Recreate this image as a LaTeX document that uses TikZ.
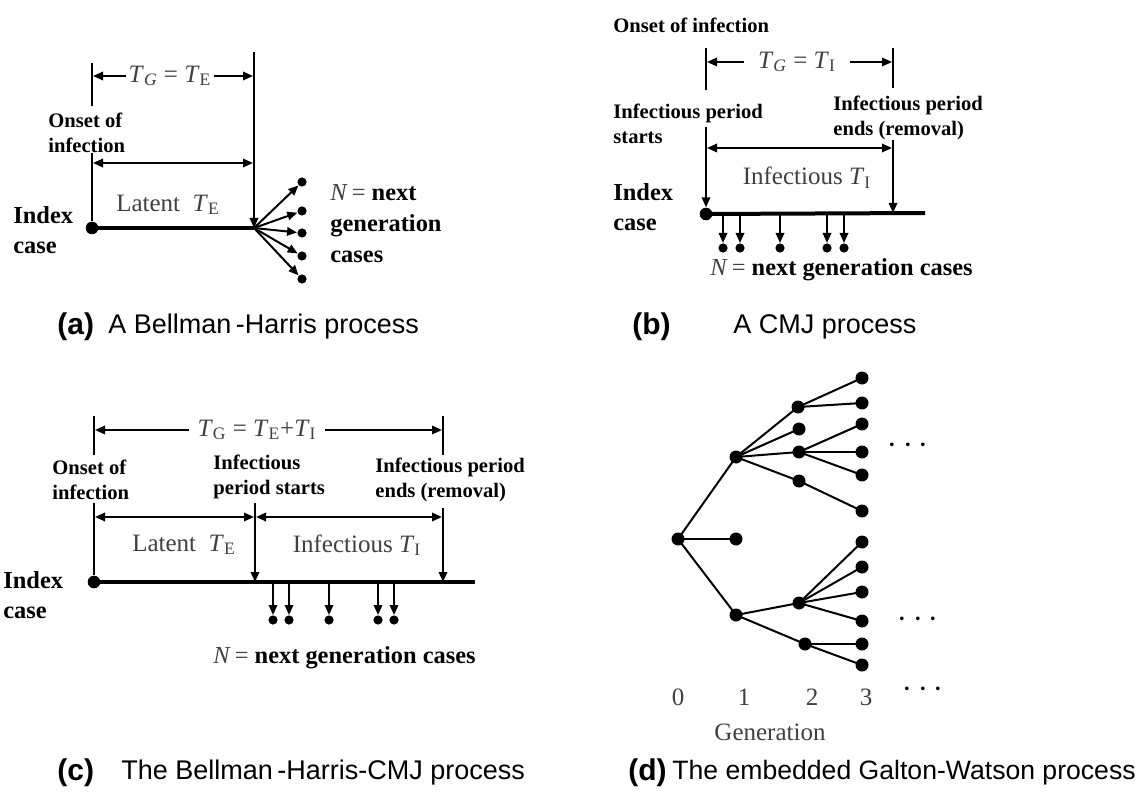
\documentclass[tikz,border=0pt]{standalone}
\usepackage{fontspec}
\setmainfont{Liberation Serif}
\setsansfont{Liberation Sans}
\usetikzlibrary{arrows.meta}
\newcommand{\TT}[1]{\textit{T}\textsubscript{#1}}
\begin{document}
\begin{tikzpicture}[x=0.5pt,y=-0.5pt,
  thinl/.style={line width=1pt},
  baseln/.style={line width=2pt},
  arr/.style={line width=1pt,-{Triangle[length=5pt,width=4.2pt]}},
  darr/.style={line width=1pt,{Triangle[length=5pt,width=4.2pt]}-{Triangle[length=5pt,width=4.2pt]}},
  bigdot/.style={circle,fill=black,inner sep=0pt,minimum size=6.3pt},
  smdot/.style={circle,fill=black,inner sep=0pt,minimum size=4.6pt},
  gdot/.style={circle,fill=black,inner sep=0pt,minimum size=6.5pt},
  edge/.style={line width=1pt},
  reg/.style={font=\fontsize{12.5}{15}\selectfont,text=black!75,inner sep=1pt},
  smb/.style={font=\fontsize{10.3}{12.8}\selectfont\bfseries,align=left,inner sep=0pt},
  bigb/.style={font=\fontsize{12.2}{15.2}\selectfont\bfseries,align=left,inner sep=0pt},
  capl/.style={font=\sffamily\bfseries\fontsize{15}{17}\selectfont,inner sep=0pt},
  capt/.style={font=\sffamily\fontsize{13.5}{16}\selectfont,inner sep=0pt},
  dots/.style={font=\fontsize{16}{18}\selectfont,inner sep=0pt}
]
\useasboundingbox (0,0) rectangle (1144,796);
\fill[white] (0,0) rectangle (1144,796);

% ================= (a) =================
\coordinate (aTickT) at (92,63);
\coordinate (aTickB) at (92,106);
\draw[thinl] (aTickT) -- (aTickB);
\coordinate (aVtop) at (254,52);
\node[bigdot] (aIdx) at (92,228) {};
\coordinate (aEnd) at (254,228);
\draw[baseln] (aIdx.center) -- (aEnd);
\draw[arr] (aVtop) -- (aEnd);
\node[reg] (aTG) at (170,76) {\TT{\textit{G}} = \TT{E}};
\coordinate (aTGL) at (93,76);
\coordinate (aTGR) at (253,76);
\draw[arr] (aTG.west) -- (aTGL);
\draw[arr] (aTG.east) -- (aTGR);
\node[smb,anchor=west] (aOnset) at (48,133) {Onset of\\infection};
\coordinate (aOnV) at (92,153);
\draw[thinl] (aOnV) -- (aIdx);
\coordinate (aL1) at (93,163);
\coordinate (aR1) at (253,163);
\draw[darr] (aL1) -- (aR1);
\node[reg] (aLat) at (168,205) {Latent\ \ \TT{E}};
\node[bigb,anchor=west] (aIndex) at (13,230) {Index\\case};
\foreach \i/\yy in {1/182,2/211,3/233,4/256,5/279}{
  \node[smdot] (aD\i) at (302,\yy) {};
  \draw[arr] (aEnd) -- (aD\i);
}
\node[bigb,anchor=west,font=\fontsize{12.2}{15.5}\selectfont\bfseries] (aN) at (330,224) {{\mdseries\color{black!75}\textit{N}\,=} next\\generation\\cases};

% ================= (b) =================
\node[smb,anchor=west] (bOnset) at (613,25) {Onset of infection};
\coordinate (bTL1) at (706,48);
\coordinate (bTL2) at (706,90);
\coordinate (bTR1) at (893,48);
\coordinate (bTR2) at (893,88);
\draw[thinl] (bTL1) -- (bTL2);
\draw[thinl] (bTR1) -- (bTR2);
\node[reg] (bTG) at (797,62) {\TT{\textit{G}} = \TT{I}};
\coordinate (bTGL) at (707,62);
\coordinate (bTGR) at (892,62);
\draw[arr] ([xshift=-6pt]bTG.west) -- (bTGL);
\draw[arr] ([xshift=6pt]bTG.east) -- (bTGR);
\node[smb,anchor=west] (bStart) at (613,124) {Infectious period\\starts};
\node[smb,anchor=west] (bEnds) at (833,118) {Infectious period\\ends (removal)};
\node[bigdot] (bIdx) at (706,214) {};
\coordinate (bVL) at (706,127);
\draw[arr] (bVL) -- (bIdx);
\coordinate (bVR) at (893,140);
\coordinate (bVRb) at (893,213);
\draw[arr] (bVR) -- (bVRb);
\coordinate (bL1) at (707,148);
\coordinate (bR1) at (892,148);
\draw[darr] (bL1) -- (bR1);
\node[reg] (bInf) at (807,178) {Infectious \TT{I}};
\node[bigb,anchor=west] (bIndex) at (613,207) {Index\\case};
\coordinate (bEnd) at (925,213);
\draw[baseln] (bIdx.center) -- (bEnd);
\foreach \i/\xx in {1/723,2/740,3/780,4/827,5/844}{
  \coordinate (bS\i) at (\xx,214);
  \node[smdot] (bD\i) at (\xx,248) {};
  \draw[arr] (bS\i) -- (bD\i);
}
\node[bigb,anchor=west] (bN) at (710,270) {{\mdseries\color{black!75}\textit{N}\,=} next generation cases};

% ================= (c) =================
\coordinate (cTL1) at (94,416);
\coordinate (cTL2) at (94,455);
\coordinate (cTR1) at (443,416);
\coordinate (cTR2) at (443,455);
\draw[thinl] (cTL1) -- (cTL2);
\draw[thinl] (cTR1) -- (cTR2);
\node[reg] (cTG) at (257,430) {\TT{G} = \TT{E}+\TT{I}};
\coordinate (cTGL) at (95,430);
\coordinate (cTGR) at (442,430);
\draw[arr] ([xshift=-3pt]cTG.west) -- (cTGL);
\draw[arr] ([xshift=3pt]cTG.east) -- (cTGR);
\node[smb,anchor=west] (cOnset) at (52,480) {Onset of\\infection};
\node[smb,anchor=west] (cStart) at (213,477) {Infectious\\period starts};
\node[smb,anchor=west] (cEnds) at (375,480) {Infectious period\\ends (removal)};
\node[bigdot] (cIdx) at (94,582) {};
\coordinate (cOnV) at (94,503);
\draw[thinl] (cOnV) -- (cIdx);
\coordinate (cVM) at (255,503);
\coordinate (cVMb) at (255,582);
\draw[arr] (cVM) -- (cVMb);
\coordinate (cVR) at (443,508);
\coordinate (cVRb) at (443,582);
\draw[arr] (cVR) -- (cVRb);
\coordinate (cL1) at (95,517);
\coordinate (cM1) at (254,517);
\coordinate (cM2) at (256,517);
\coordinate (cR1) at (442,517);
\draw[darr] (cL1) -- (cM1);
\draw[darr] (cM2) -- (cR1);
\node[reg] (cLat) at (184,545) {Latent\ \ \TT{E}};
\node[reg] (cInf) at (357,545) {Infectious \TT{I}};
\coordinate (cEnd) at (475,582);
\draw[baseln] (cIdx.center) -- (cEnd);
\node[bigb,anchor=west] (cIndex) at (3,595) {Index\\case};
\foreach \i/\xx in {1/273,2/289,3/329,4/378,5/394}{
  \coordinate (cS\i) at (\xx,583);
  \node[smdot] (cD\i) at (\xx,620) {};
  \draw[arr] (cS\i) -- (cD\i);
}
\node[bigb,anchor=west] (cN) at (213,658) {{\mdseries\color{black!75}\textit{N}\,=} next generation cases};

% ================= (d) =================
\node[gdot] (r) at (678,539) {};
\node[gdot] (g1a) at (736,457) {};
\node[gdot] (g1b) at (736,539) {};
\node[gdot] (g1c) at (736,615) {};
\node[gdot] (g2a) at (798,407) {};
\node[gdot] (g2b) at (799,429) {};
\node[gdot] (g2c) at (799,452) {};
\node[gdot] (g2d) at (799,481) {};
\node[gdot] (g2e) at (799,603) {};
\node[gdot] (g2f) at (805,644) {};
\foreach \i/\yy in {1/378,2/403,3/424,4/452,5/475,6/511,7/542,8/567,9/592,10/621,11/644,12/665}{
  \node[gdot] (g3n\i) at (862,\yy) {};
}
\draw[edge] (r.center) -- (g1a.center);
\draw[edge] (r.center) -- (g1b.center);
\draw[edge] (r.center) -- (g1c.center);
\foreach \t in {g2a,g2b,g2c,g2d}{\draw[edge] (g1a.center) -- (\t.center);}
\foreach \t in {g3n1,g3n2}{\draw[edge] (g2a.center) -- (\t.center);}
\foreach \t in {g3n3,g3n4,g3n5}{\draw[edge] (g2c.center) -- (\t.center);}
\draw[edge] (g2d.center) -- (g3n6.center);
\foreach \t in {g2e,g2f}{\draw[edge] (g1c.center) -- (\t.center);}
\foreach \t in {g3n7,g3n8,g3n9,g3n10}{\draw[edge] (g2e.center) -- (\t.center);}
\foreach \t in {g3n11,g3n12}{\draw[edge] (g2f.center) -- (\t.center);}
\node[dots] (dd1) at (908,446) {$\cdots$};
\node[dots] (dd2) at (918,620) {$\cdots$};
\node[dots] (dd3) at (923,690) {$\cdots$};
\node[reg] (n0) at (678,697) {0};
\node[reg] (n1) at (744,697) {1};
\node[reg] (n2) at (812,697) {2};
\node[reg] (n3) at (866,697) {3};
\node[reg] (gen) at (770,732) {Generation};

% ================= captions =================
\node[capl,anchor=west] (capA) at (57,327) {(a)};
\node[capt,anchor=west] (capAt) at (108,327) {A Bellman\,-Harris process};
\node[capl,anchor=west] (capB) at (632,327) {(b)};
\node[capt,anchor=west] (capBt) at (733,327) {A CMJ process};
\node[capl,anchor=west] (capC) at (57,773) {(c)};
\node[capt,anchor=west] (capCt) at (121,773) {The Bellman\,-Harris-CMJ process};
\node[capl,anchor=west] (capD) at (628,773) {(d)};
\node[capt,anchor=west,font=\sffamily\fontsize{13.3}{16}\selectfont] (capDt) at (672,773) {The embedded Galton-Watson process};
\end{tikzpicture}
\end{document}
